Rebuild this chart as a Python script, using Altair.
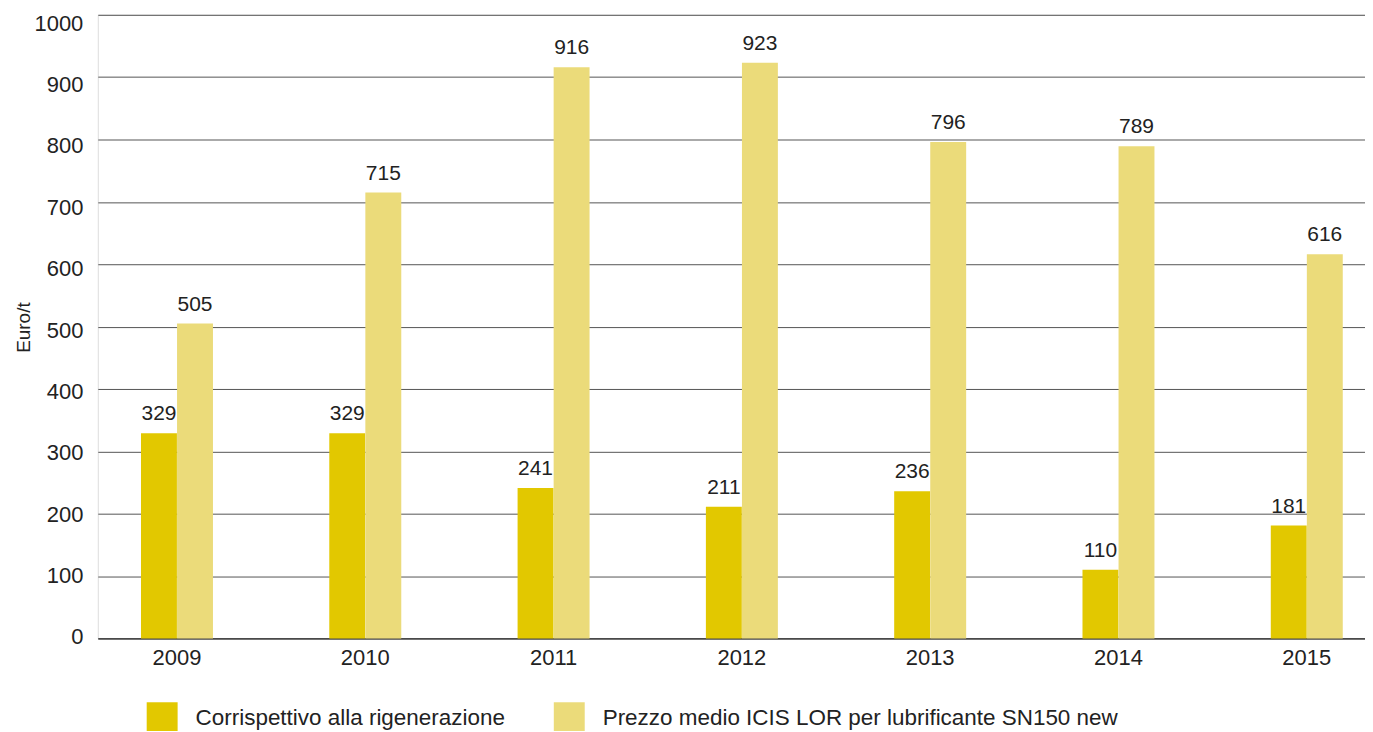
import altair as alt
import pandas as pd

years = ["2009", "2010", "2011", "2012", "2013", "2014", "2015"]
corrispettivo = [329, 329, 241, 211, 236, 110, 181]
prezzo = [505, 715, 916, 923, 796, 789, 616]
series = ["Corrispettivo alla rigenerazione",
          "Prezzo medio ICIS LOR per lubrificante SN150 new"]
colors = ["#E2C800", "#EBDB7A"]

rows = []
for i, y in enumerate(years):
    rows.append({"anno": y, "serie": series[0], "valore": corrispettivo[i]})
    rows.append({"anno": y, "serie": series[1], "valore": prezzo[i]})
df = pd.DataFrame(rows)

FONT = "Liberation Sans"

x = alt.X("anno:N", sort=years, title=None,
          scale=alt.Scale(range=[0, 1291], paddingInner=0.617, paddingOuter=0.229),
          axis=alt.Axis(labelAngle=0, labelFontSize=22, labelColor="#222", ticks=False,
                        domain=True, domainColor="#333", domainWidth=1.2,
                        labelPadding=9, labelFont=FONT))
xo = alt.XOffset("serie:N", sort=series, scale=alt.Scale(paddingInner=0, paddingOuter=0))
y = alt.Y("valore:Q", title="Euro/t",
          scale=alt.Scale(domain=[0, 1000], nice=False),
          axis=alt.Axis(values=list(range(0, 1001, 100)), format="d", labelFontSize=22,
                        labelColor="#222", labelFont=FONT, ticks=False, domain=False,
                        labelOffset=alt.ExprRef("datum.value / 100 - 1.5"),
                        gridColor="#555", gridWidth=1, labelPadding=15, titleFont=FONT,
                        titleFontSize=19, titleFontWeight="normal", titleColor="#222",
                        titleX=-74, titleY=313, titleBaseline="middle", titleAngle=-90))

color = alt.Color("serie:N", sort=series,
                  scale=alt.Scale(domain=series, range=colors),
                  legend=alt.Legend(title=None, orient="none", legendX=49, legendY=689,
                                    direction="horizontal", symbolType="square",
                                    symbolSize=961, symbolStrokeWidth=0, labelFontSize=22.5,
                                    labelFont=FONT, labelColor="#222", labelOffset=18,
                                    columnPadding=48, labelLimit=700))

base = alt.Chart(df)
bars = base.mark_bar(size=36).encode(x=x, xOffset=xo, y=y, color=color)
labels = base.mark_text(fontSize=21, font=FONT, color="#222", baseline="alphabetic",
                        dy=-13).encode(x=x, xOffset=xo, y=y, text="valore:Q")

chart = (bars + labels).properties(
    width=1270, height=625,
    autosize=alt.AutoSizeParams(type="none"),
    padding={"left": 90, "top": 6, "right": 0, "bottom": 92},
).configure_view(stroke=None).configure(background="white")

chart.save("out.html", embed_options={"renderer": "svg", "actions": False})
